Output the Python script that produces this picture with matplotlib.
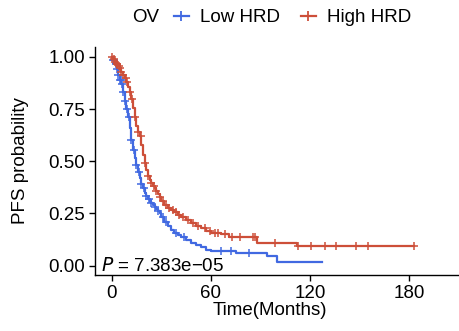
import numpy as np
import matplotlib
matplotlib.use("Agg")
import matplotlib.pyplot as plt
from matplotlib.lines import Line2D

plt.rcParams['font.family'] = ['Liberation Sans', 'DejaVu Sans']

# ---- data ----
low_t = [0, 1, 2, 3, 4, 5, 6, 7, 8, 9, 10, 11, 12, 13, 14, 15, 16, 17, 18, 19, 20, 21, 22, 23,
         24, 25, 26, 27, 28, 29, 30, 32, 34, 36, 38, 40, 42, 45, 48, 51, 54, 57, 60, 75, 94, 100, 127]
low_s = [1.0, 0.985, 0.965, 0.94, 0.915, 0.89, 0.87, 0.83, 0.79, 0.75, 0.71, 0.66, 0.60, 0.555,
         0.515, 0.48, 0.45, 0.42, 0.39, 0.37, 0.35, 0.335, 0.32, 0.31, 0.30, 0.29, 0.28, 0.27, 0.26,
         0.25, 0.235, 0.21, 0.19, 0.17, 0.155, 0.145, 0.135, 0.125, 0.11, 0.10, 0.09, 0.075, 0.068,
         0.06, 0.045, 0.018, 0.016]
low_cens = [1, 1.5, 2.5, 3, 4, 5, 5.5, 6.5, 7, 8, 9.5, 10.5, 12, 13.5, 15, 16.5, 18, 19.5, 21,
            22.5, 24, 26, 28, 31, 33, 39, 44, 66, 72, 83]

high_t = [0, 1, 2, 3, 4, 5, 6, 7, 8, 9, 10, 11, 12, 13, 14, 15, 16, 17, 18, 19, 20, 21, 22, 23,
          24, 25, 26, 27, 28, 29, 30, 32, 34, 36, 38, 40, 42, 45, 48, 51, 54, 57, 60, 66, 71, 88, 112, 183]
high_s = [1.0, 0.99, 0.977, 0.965, 0.955, 0.946, 0.93, 0.915, 0.898, 0.88, 0.858, 0.83, 0.80,
          0.755, 0.71, 0.667, 0.64, 0.62, 0.58, 0.53, 0.49, 0.46, 0.43, 0.41, 0.395, 0.38, 0.37,
          0.36, 0.345, 0.33, 0.31, 0.29, 0.275, 0.265, 0.255, 0.245, 0.235, 0.22, 0.205, 0.19,
          0.18, 0.168, 0.158, 0.15, 0.137, 0.11, 0.096, 0.096]
high_cens = [0.5, 1.5, 2, 3, 3.5, 4.5, 5, 6, 7, 8.5, 9.5, 11, 12.5, 14, 16, 17.5, 20, 22, 24,
             25.5, 27, 29, 31, 33, 35, 37, 39, 41, 43, 46, 49, 52, 56.4, 59.4, 62.4, 64.5, 68.4,
             72.5, 77.5, 85.5, 86.5, 98.6, 112.7, 120.7, 128.7, 135.8, 147.8, 154.8, 183]

groups = ["Low HRD", "High HRD"]
colors = ["#4169E1", "#CD4F39"]
p_text = "7.383e\u221205"

# ---- plot ----
FS = 13.5
fig = plt.figure(figsize=(4.6, 3.31), dpi=100)
ax = fig.add_axes([0.2065, 0.169, 0.7915, 0.6905])

def surv_at(ts, ss, x):
    idx = np.searchsorted(np.asarray(ts), x, side='right') - 1
    return np.asarray(ss)[idx]

for (t, s, c_t), col in zip([(low_t, low_s, low_cens), (high_t, high_s, high_cens)], colors):
    ax.step(t, s, where='post', color=col, lw=1.6)
    ax.plot(c_t, surv_at(t, s, c_t), ls='none', marker='+', ms=6, mew=1.1, color=col)

ax.set_xlim(-10, 210)
ax.set_ylim(-0.045, 1.05)
ax.set_xticks([0, 60, 120, 180])
ax.set_yticks([0, 0.25, 0.5, 0.75, 1.0])
ax.set_yticklabels(["0.00", "0.25", "0.50", "0.75", "1.00"])
for sp in ['top', 'right']:
    ax.spines[sp].set_visible(False)
for sp in ['left', 'bottom']:
    ax.spines[sp].set_linewidth(1.0)
ax.tick_params(axis='both', labelsize=FS, length=4, width=1.0, color='black', labelcolor='black', pad=3)
ax.set_xlabel("Time(Months)", fontsize=FS, labelpad=0)
ax.xaxis.label.set_x(0.48)
ax.set_ylabel("PFS probability", fontsize=FS, labelpad=14)

ax.text(-6.3, 0.0, "$P$ = " + p_text, fontsize=FS, ha='left', va='center')

handles = [Line2D([0], [0], color=c, lw=1.6, marker='+', ms=7, mew=1.3) for c in colors]
fig.text(0.287, 0.947, "OV", fontsize=FS, ha='left', va='center')
fig.legend(handles, groups, loc='center left', bbox_to_anchor=(0.378, 0.947), ncol=2,
           frameon=False, fontsize=FS, handlelength=0.8, handletextpad=0.6, columnspacing=1.1,
           borderaxespad=0, borderpad=0)

fig.savefig("out.png", dpi=100)
